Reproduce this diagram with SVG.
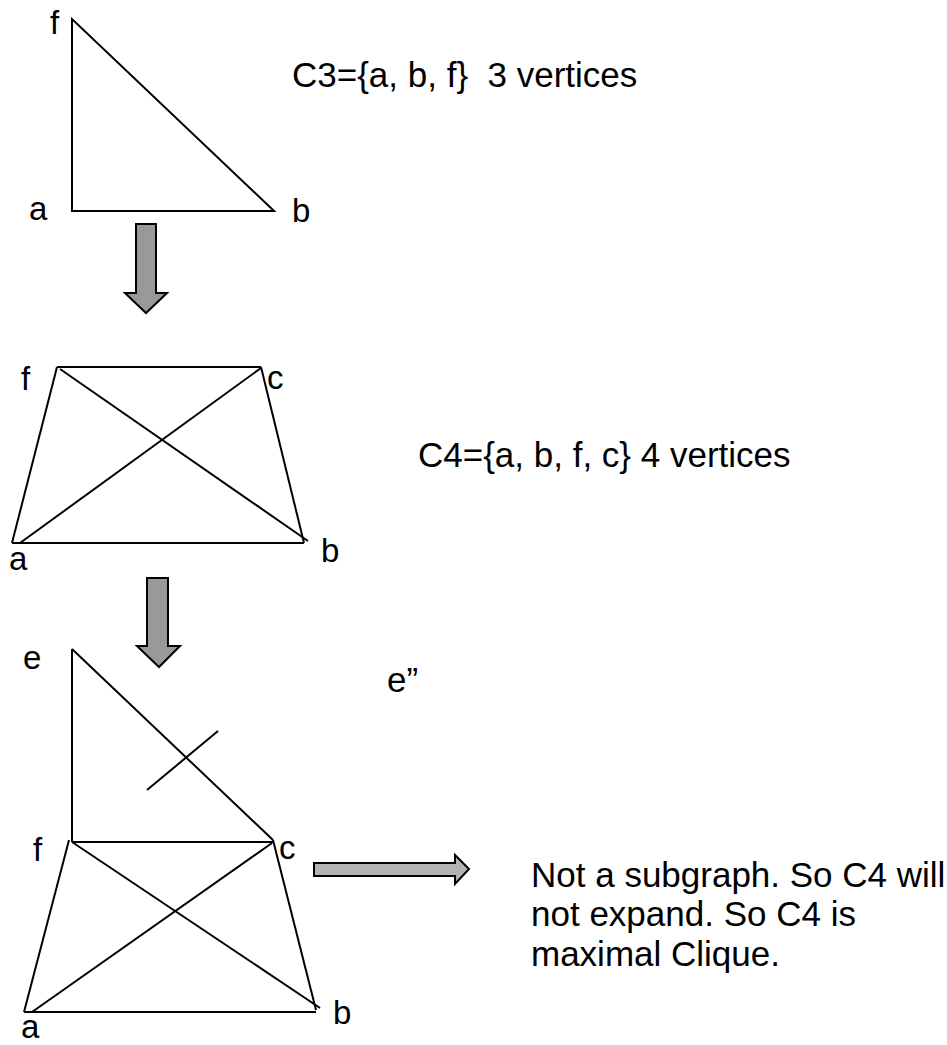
<svg xmlns="http://www.w3.org/2000/svg" width="947" height="1045" viewBox="0 0 947 1045">
<style>
.e{stroke:#000;stroke-width:2;fill:none;stroke-linecap:butt}
.t{font-family:"Liberation Sans",Arial,sans-serif;font-size:35px;fill:#000}
.l{font-family:"Liberation Sans",Arial,sans-serif;font-size:33px;fill:#000}
.ad{fill:#999999;stroke:#000;stroke-width:2}
.ar{fill:#b3b3b3;stroke:#000;stroke-width:2}
</style>
<rect width="947" height="1045" fill="#fff"/>
<g id="c3">
<polygon class="e" points="72,19 72,211 274,211"/>
<text class="l" x="50" y="34">f</text>
<text class="l" x="29" y="220">a</text>
<text class="l" x="292" y="222">b</text>
</g>
<g id="c4">
<line class="e" x1="57" y1="367" x2="261" y2="367"/>
<line class="e" x1="57" y1="367" x2="12" y2="543"/>
<line class="e" x1="12" y1="543" x2="304" y2="543"/>
<line class="e" x1="261" y1="367" x2="304" y2="543"/>
<line class="e" x1="60" y1="369" x2="308" y2="541"/>
<line class="e" x1="20" y1="543" x2="261" y2="368"/>
<text class="l" x="21" y="390">f</text>
<text class="l" x="267" y="389">c</text>
<text class="l" x="9" y="570">a</text>
<text class="l" x="321" y="562">b</text>
</g>
<g id="c5">
<line class="e" x1="72" y1="649" x2="72" y2="842"/>
<line class="e" x1="72" y1="649" x2="273" y2="840"/>
<line class="e" x1="147" y1="790" x2="218" y2="731"/>
<line class="e" x1="72" y1="842" x2="273" y2="842"/>
<line class="e" x1="69" y1="840" x2="24" y2="1012"/>
<line class="e" x1="273" y1="840" x2="316" y2="1010"/>
<line class="e" x1="24" y1="1012" x2="316" y2="1012"/>
<line class="e" x1="72" y1="842" x2="320" y2="1008"/>
<line class="e" x1="32" y1="1012" x2="272" y2="843"/>
<text class="l" x="21" y="1038">a</text>
<text class="l" x="23" y="669">e</text>
<text class="l" x="33" y="861">f</text>
<text class="l" x="279" y="859">c</text>
<text class="l" x="333" y="1024">b</text>
</g>
<g id="connectors">
<polygon class="ad" points="136,224 156,224 156,293 167,293 146,313 125,293 136,293"/>
<polygon class="ad" points="147,578 168,578 168,646 180,646 159,667 137,646 147,646"/>
<polygon class="ar" points="314,863 455,863 455,855 469,869 455,884 455,876 314,876"/>
</g>
<g id="labels">
<text class="t" x="292" y="87" xml:space="preserve">C3={a, b, f}  3 vertices</text>
<text class="t" x="418" y="467">C4={a, b, f, c} 4 vertices</text>
<text class="t" x="387" y="692">e”</text>
<text class="t" x="531" y="887">Not a subgraph. So C4 will</text>
<text class="t" x="531" y="926">not expand. So C4 is</text>
<text class="t" x="531" y="966">maximal Clique.</text>
</g>
</svg>
